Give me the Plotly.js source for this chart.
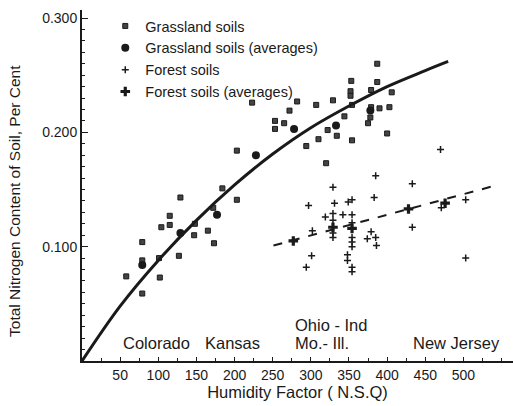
<!DOCTYPE html>
<html>
<head>
<meta charset="utf-8">
<script src="https://cdn.plot.ly/plotly-3.0.1.min.js"></script>
<style>html,body{margin:0;padding:0;background:#fff;}#chart{width:513px;height:406px;}</style>
</head>
<body>
<div id="chart"></div>
<script>
// Grassland soils
const grassX = [58,79,79,79,101,102,104,115,115,127,129,147,148,165,172,173,184,203,
  203,223,253,253,265,272,282,294,307,310,320,322,
  329,334,344,352,352,353,354,354,375,379,379,378,387,387,390,400,403,406];
const grassY = [0.074,0.104,0.088,0.059,0.090,0.073,0.117,0.127,0.119,0.092,0.143,0.110,0.120,0.114,0.134,0.103,0.151,0.141,
  0.184,0.226,0.210,0.203,0.208,0.219,0.227,0.188,0.224,0.194,0.173,0.202,
  0.228,0.197,0.214,0.236,0.232,0.245,0.224,0.193,0.208,0.237,0.222,0.213,0.260,0.244,0.221,0.199,0.222,0.235];
// Grassland soils (averages)
const grassAvgX = [79,129,177,228,278,333,378];
const grassAvgY = [0.084,0.112,0.128,0.180,0.203,0.206,0.219];
// Forest soils
const forestX = [385,329,383,297,331,349,354,342,319,329,329,329,329,354,354,354,354,354,302,374,379,385,386,301,294,348,348,354,354,470,433,433,471,503,503];
const forestY = [0.162,0.152,0.143,0.136,0.138,0.139,0.141,0.128,0.126,0.129,0.123,0.112,0.108,0.128,0.121,0.108,0.104,0.100,0.114,0.107,0.113,0.108,0.101,0.092,0.082,0.093,0.088,0.082,0.078,0.185,0.155,0.117,0.134,0.141,0.090];
// Forest soils (averages)
const forestAvgX = [277,329,354,428,476];
const forestAvgY = [0.105,0.117,0.116,0.133,0.138];
// Grassland curve
const curveX = [0,50,100,150,200,250,300,350,400,450,480];
const curveY = [0,0.048,0.088,0.123,0.154,0.181,0.204,0.223,0.240,0.254,0.262];
// Forest trend line
const forestLineX = [251,545];
const forestLineY = [0.101,0.154];
// Axis ticks
const xTicks = [50,100,150,200,250,300,350,400,450,500];
const xTickText = ["50","100","150","200","250","300","350","400","450","500"];
const yTicks = [0.1,0.2,0.3];
const yTickText = ["0.100","0.200","0.300"];
// Region labels
const regionText = ["Colorado","Kansas","Ohio - Ind","Mo.- Ill.","New Jersey"];
const regionX = [98,197,277,277,491];
const regionY = [0.0157,0.0157,0.0315,0.0157,0.0157];
const regionAnchor = ["center","center","left","left","center"];
const yTitle = "Total Nitrogen Content of Soil, Per Cent";

const FONT = "Liberation Sans, Arial, sans-serif";
const INK = "#1a1a1a";

const traces = [
  {x: grassX, y: grassY, mode: "markers", type: "scatter", name: "Grassland soils",
   marker: {symbol: "square", size: 5, color: "#444", line: {color: INK, width: 1}}},
  {x: grassAvgX, y: grassAvgY, mode: "markers", type: "scatter", name: "Grassland soils (averages)",
   marker: {symbol: "circle", size: 8, color: INK}},
  {x: forestX, y: forestY, mode: "markers", type: "scatter", name: "Forest soils",
   marker: {symbol: "cross-thin", size: 5, line: {color: INK, width: 1.5}}},
  {x: forestAvgX, y: forestAvgY, mode: "markers", type: "scatter", name: "Forest soils (averages)",
   marker: {symbol: "cross", size: 8, color: INK}},
  {x: curveX, y: curveY, mode: "lines", type: "scatter", showlegend: false, hoverinfo: "skip",
   line: {color: INK, width: 3, shape: "spline"}},
  {x: forestLineX, y: forestLineY, mode: "lines", type: "scatter", showlegend: false, hoverinfo: "skip",
   line: {color: INK, width: 2, dash: "dash"}}
];

const annotations = regionText.map((t, i) => ({
  x: regionX[i], y: regionY[i], xref: "x", yref: "y", text: t, showarrow: false,
  xanchor: regionAnchor[i], yanchor: "middle", font: {family: FONT, size: 16.5, color: INK}
}));
annotations.push({
  x: -0.1555, y: 0.456, xref: "paper", yref: "paper", text: yTitle, showarrow: false,
  textangle: -90, xanchor: "center", yanchor: "middle", font: {family: FONT, size: 15.5, color: INK}
});

const layout = {
  width: 513, height: 406,
  margin: {l: 82, r: 0, t: 10, b: 45},
  paper_bgcolor: "#fff", plot_bgcolor: "#fff",
  font: {family: FONT, size: 14, color: INK},
  showlegend: true,
  legend: {x: 0.054, y: 1.0, xanchor: "left", yanchor: "top", bgcolor: "rgba(0,0,0,0)",
           font: {family: FONT, size: 14.5, color: INK}, itemwidth: 30, tracegroupgap: 0},
  xaxis: {range: [0, 565], showgrid: false, zeroline: false, showline: true, linecolor: INK, linewidth: 2,
          tickvals: xTicks, ticktext: xTickText, ticks: "inside", ticklen: 4, tickcolor: INK,
          minor: {dtick: 25, tick0: 0, ticks: "inside", ticklen: 3, tickcolor: INK},
          tickfont: {family: FONT, size: 14, color: INK},
          title: {text: "Humidity Factor ( N.S.Q)", font: {family: FONT, size: 16.5, color: INK}, standoff: 0}},
  yaxis: {range: [0, 0.307], showgrid: false, zeroline: false, showline: true, linecolor: INK, linewidth: 2,
          tickvals: yTicks, ticktext: yTickText, ticks: "inside", ticklen: 6, tickcolor: INK,
          minor: {dtick: 0.01, tick0: 0, ticks: "inside", ticklen: 3, tickcolor: INK},
          tickfont: {family: FONT, size: 14, color: INK}},
  annotations: annotations
};

Plotly.newPlot("chart", traces, layout, {displayModeBar: false, staticPlot: true});
</script>
</body>
</html>
